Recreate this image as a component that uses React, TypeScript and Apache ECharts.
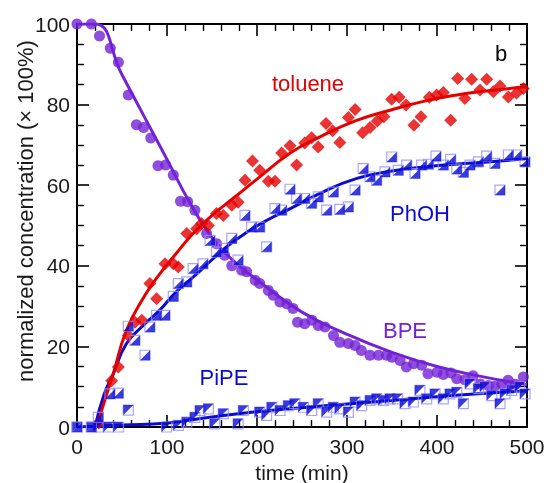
import React, { useEffect, useRef } from "react";
import * as echarts from "echarts";

// ---- data ----
const bpe: number[][] = [
  [0, 100], [16, 100], [25, 97], [37, 94], [46, 90.5], [57, 82.4], [66, 75], [74, 74.3], [82, 71.7],
  [90, 64.8], [98.5, 65], [107, 62.5], [115, 56], [123, 55.9], [131, 53.8], [144, 48], [155, 45.5],
  [164, 42.6], [172, 40], [183, 38.9], [188.5, 38.5], [198, 36.4], [203, 35.6], [212.6, 33.9],
  [218, 32.7], [225.5, 31], [233, 30.6], [240, 29.4], [245, 26], [253, 25.6], [261, 26.5],
  [268, 25.2], [275.5, 24.8], [285, 22.7], [292, 21], [301.5, 20.7], [309, 20.2], [316, 19],
  [325.5, 17.8], [335, 17.8], [344, 17.8], [350, 17.3], [359, 16.5], [366, 14.9], [374, 15.7],
  [383, 15.3], [390, 13.2], [400, 13.6], [407, 13], [415.5, 13.4], [422, 12], [431, 11.7],
  [440, 12.7], [448, 10.7], [457, 10.3], [464, 10.1], [472, 10.6], [479, 11.6], [487, 10.6], [496, 12.4],
];

const toluene: number[][] = [
  [24, 1], [38.5, 11.5], [46, 14.9], [57, 22.7], [64.4, 26], [72, 26.5], [81, 35.6], [88.5, 31.8],
  [97.8, 40.5], [107, 40.5], [112.6, 39.7], [122, 48], [133, 49.2], [138.5, 50.5], [146, 50],
  [155, 53], [162.6, 52.5], [172, 55], [179, 55.8], [186.7, 61.2], [195, 66], [203, 63.7],
  [212.6, 61], [220, 61], [227.4, 68], [236.7, 69.8], [244, 65], [253, 70.5], [260.7, 71.8],
  [268, 69.5], [276.7, 75.3], [284, 73.5], [292, 70.6], [301.5, 76.8], [309, 78.8], [317.4, 73],
  [325.6, 74.3], [333.7, 75.9], [341, 77], [349.6, 81.3], [358, 81.8], [365.6, 79.9], [374.4, 74.9],
  [382.2, 77], [391.5, 81.8], [399.6, 82.4], [407, 83], [415.2, 76.1], [423, 86.5], [431, 81.5],
  [438.5, 86.3], [447.8, 83.6], [455.2, 86.3], [462.6, 83.2], [470, 84.6], [479.3, 81.9],
  [488.5, 82.9], [496, 84],
];

const phoh: number[][] = [
  [0, 0], [16, 0], [23.7, 2.4], [36.7, 8.2], [46, 8.4], [57, 25], [64.4, 21.5], [75.6, 17.8],
  [81, 24.8], [88.5, 27.7], [97.8, 27.7], [107, 32.4], [112.6, 35.6], [122, 36], [129, 39.3],
  [140, 40.5], [147.8, 46.3], [155, 43.4], [162.6, 44.3], [172, 46.8], [179, 41.4], [186.7, 52.5],
  [194, 49.6], [203, 49.6], [210.7, 44.7], [220, 54.2], [227.4, 53.8], [236.7, 59], [244, 56.7],
  [253, 56.7], [260.7, 55.5], [268, 57.1], [277.4, 53.8], [284.8, 58.3], [292, 54], [301.5, 54.6],
  [309, 58.8], [318, 64.1], [325.6, 62.1], [333, 61.2], [342.2, 63.3], [349.7, 67], [357, 63.7],
  [366.3, 65], [375.6, 62.9], [383, 65], [390.4, 65.2], [398.9, 67.2], [407, 65], [415.2, 66.4],
  [422, 64], [429.3, 63.2], [436.7, 65], [446, 65.8], [455.2, 67.2], [464.4, 65.4], [470, 58.8],
  [479.3, 67.5], [488.5, 67.5], [497.8, 65.8],
];

const pipe: number[][] = [
  [0, 0], [16, 0], [23.7, 0], [35, 0], [46, 0], [57, 4.2], [99.6, 0], [112.6, 0.4], [122, 1.2],
  [131, 2.4], [136.7, 4.1], [146, 4.5], [153, 0.8], [162.6, 3.3], [179, 0.8], [184.8, 4.1],
  [203, 3.7], [210.7, 2.9], [216.4, 4.9], [225.6, 4.1], [234.8, 5.3], [242, 5.8], [251.5, 4.9],
  [260.7, 4.1], [268, 5.8], [277.4, 3.7], [284.8, 4.9], [292, 4.5], [301.5, 3.7], [309, 6.2],
  [316.3, 5.3], [325.6, 6.6], [333, 7], [340.4, 6.6], [347.8, 7], [356, 7], [364.4, 5.8],
  [373.7, 6.2], [381, 9.1], [388.5, 7], [397.8, 8.2], [407, 7], [414.4, 8.2], [422, 8.6],
  [429.3, 5.8], [436.7, 10.7], [446, 9.5], [453.3, 9.9], [460.8, 7.8], [470, 5.8], [475.6, 8.2],
  [483, 9.1], [492, 9.9], [497.8, 8.2],
];

// fitted curves
const bpeFitX = [0, 20, 50, 75, 100, 125, 150, 175, 200, 250, 300, 350, 400, 450, 500];
const bpeFitY = [100, 100, 87.4, 76.9, 66.4, 55.8, 47, 41, 36.5, 28.5, 23, 18.5, 15, 12.5, 10.5];
const tolFitX = [22, 30, 40, 55, 75, 92, 110, 129, 150, 175, 200, 237, 270, 310, 348, 385, 422, 460, 500];
const tolFitY = [0, 6, 13, 24, 32.5, 38, 43, 48, 52.5, 57, 61.5, 68, 72, 76, 78.6, 80.8, 82.4, 83.5, 84.4];
const phFitX = [20, 30, 40, 55, 75, 92, 110, 129, 150, 166, 190, 211, 237, 270, 311, 350, 385, 420, 459, 500];
const phFitY = [0, 8, 13, 20.7, 25.5, 29, 33.5, 37.2, 41.5, 44.7, 48.5, 51.3, 54.2, 58, 61.7, 63.5, 64.5, 65.2, 65.8, 66.6];
const piFitX = [0, 50, 100, 150, 200, 250, 300, 350, 400, 450, 500];
const piFitY = [0, 0.5, 1, 2.5, 3.8, 4.8, 5.7, 6.6, 7.5, 8.3, 9];

const xTicks = { min: 0, max: 500, interval: 100 };
const yTicks = { min: 0, max: 100, interval: 20 };

const RED = "#e50000";
const PURPLE = "#7322d6";
const BLUE = "#0a0ad2";
const LIGHT = "#8f8fff";
const FONT = "Liberation Sans, Arial, sans-serif";

const zip = (xs: number[], ys: number[]) => xs.map((x, i) => [x, ys[i]]);

export default function App() {
  const ref = useRef<HTMLDivElement>(null);
  useEffect(() => {
    if (!ref.current) return;
    const chart = echarts.init(ref.current, undefined, { renderer: "svg" });
    const axisCommon = {
      type: "value" as const,
      splitLine: { show: false },
      axisLine: { show: true, onZero: false, lineStyle: { color: "#000", width: 2 } },
      axisTick: { show: true, inside: true, length: 12, lineStyle: { color: "#000", width: 1.6 } },
      minorTick: { show: true, length: 7, lineStyle: { color: "#000", width: 1.4 } },
    };
    const xBase = { ...axisCommon, ...xTicks, minorTick: { ...axisCommon.minorTick, splitNumber: 5 } };
    const yBase = { ...axisCommon, ...yTicks, minorTick: { ...axisCommon.minorTick, splitNumber: 4 } };
    const labelStyle = { fontFamily: FONT, fontSize: 21, color: "#1a1a1a" };
    const sqStyle = { color: "rgba(255,255,255,0)", borderColor: LIGHT, borderWidth: 1.2 };
    chart.setOption({
      animation: false,
      grid: { left: 77, right: 21, top: 24, bottom: 56, outerBoundsMode: "none", containLabel: false },
      xAxis: [
        {
          ...xBase,
          position: "bottom",
          axisLabel: { ...labelStyle, margin: 9 },
          name: "time (min)",
          nameLocation: "middle",
          nameGap: 33,
          nameTextStyle: { fontFamily: FONT, fontSize: 21, color: "#1a1a1a" },
        },
        { ...xBase, position: "top", axisLabel: { show: false } },
      ],
      yAxis: [
        { ...yBase, position: "left", axisLabel: { ...labelStyle, margin: 7 } },
        { ...yBase, position: "right", axisLabel: { show: false } },
      ],
      graphic: [
        {
          type: "text",
          x: 25,
          y: 211,
          rotation: Math.PI / 2,
          style: {
            text: "normalized concentration (× 100%)",
            fontFamily: FONT,
            fontSize: 22,
            fill: "#1a1a1a",
            textAlign: "center",
            textVerticalAlign: "middle",
          },
        },
        { type: "text", x: 308, y: 83, style: { text: "toluene", fontFamily: FONT, fontSize: 22, fill: RED, textAlign: "center", textVerticalAlign: "middle" } },
        { type: "text", x: 420, y: 213, style: { text: "PhOH", fontFamily: FONT, fontSize: 22, fill: BLUE, textAlign: "center", textVerticalAlign: "middle" } },
        { type: "text", x: 405, y: 330, style: { text: "BPE", fontFamily: FONT, fontSize: 22, fill: PURPLE, textAlign: "center", textVerticalAlign: "middle" } },
        { type: "text", x: 224, y: 377, style: { text: "PiPE", fontFamily: FONT, fontSize: 22, fill: BLUE, textAlign: "center", textVerticalAlign: "middle" } },
        { type: "text", x: 501, y: 53, style: { text: "b", fontFamily: FONT, fontSize: 22, fill: "#000", textAlign: "center", textVerticalAlign: "middle" } },
      ],
      series: [
        { type: "line", data: zip(piFitX, piFitY), smooth: true, showSymbol: false, lineStyle: { color: BLUE, width: 3 }, z: 2 },
        { type: "line", data: zip(phFitX, phFitY), smooth: true, showSymbol: false, lineStyle: { color: BLUE, width: 3 }, z: 2 },
        { type: "line", data: zip(tolFitX, tolFitY), smooth: true, showSymbol: false, lineStyle: { color: RED, width: 3 }, z: 2 },
        { type: "line", data: zip(bpeFitX, bpeFitY), smooth: true, showSymbol: false, lineStyle: { color: PURPLE, width: 3 }, z: 2 },
        { type: "scatter", data: bpe, symbol: "circle", symbolSize: 11, itemStyle: { color: PURPLE }, z: 3 },
        { type: "scatter", data: toluene, symbol: "diamond", symbolSize: 13, itemStyle: { color: RED }, z: 3 },
        { type: "scatter", data: pipe, symbol: "rect", symbolSize: 10, itemStyle: sqStyle, z: 4 },
        { type: "scatter", data: pipe, symbol: "path://M0,0L10,0L0,10Z", symbolSize: 10, itemStyle: { color: BLUE }, z: 4 },
        { type: "scatter", data: phoh, symbol: "rect", symbolSize: 10, itemStyle: sqStyle, z: 4 },
        { type: "scatter", data: phoh, symbol: "path://M10,0L10,10L0,10Z", symbolSize: 10, itemStyle: { color: BLUE }, z: 4 },
      ],
    });
    return () => chart.dispose();
  }, []);
  return <div ref={ref} style={{ position: "fixed", left: 0, top: 0, width: 548, height: 483 }} />;
}
